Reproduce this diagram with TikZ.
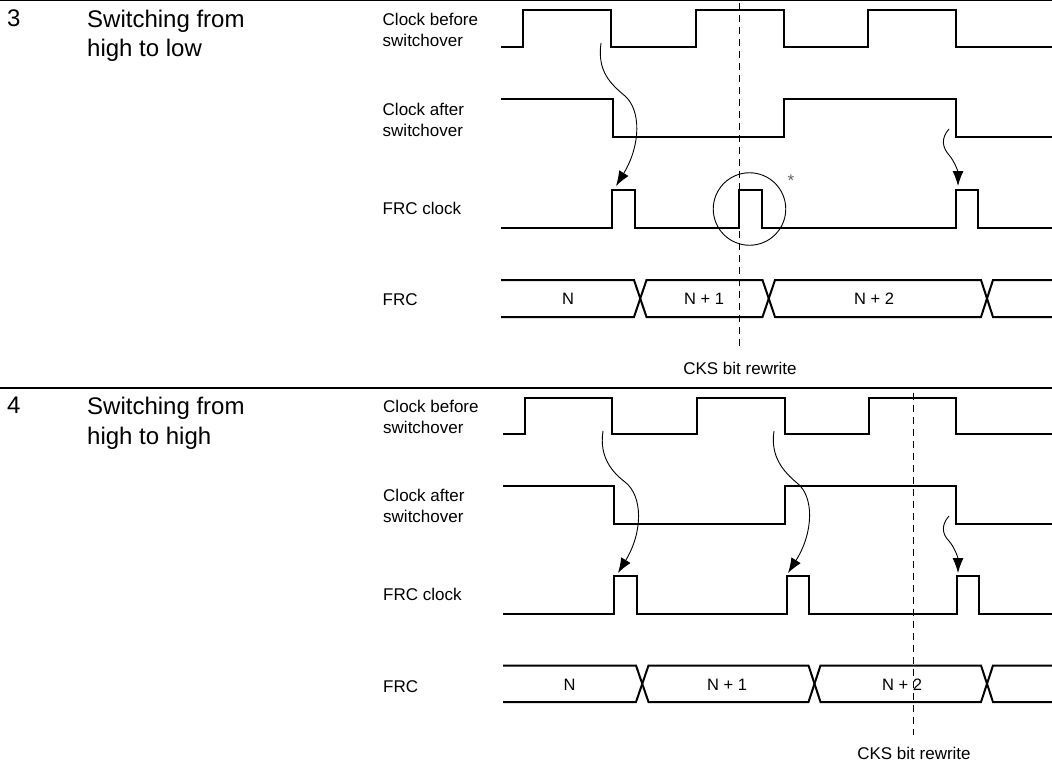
\documentclass[tikz,border=0pt]{standalone}
\usepackage{fontspec}
\setmainfont{Liberation Sans}
\usepackage{tikz}
\usetikzlibrary{arrows.meta,positioning}
\begin{document}
\begin{tikzpicture}[
        x=1pt, y=-1pt,
        siglabel/.style={
          align=left,
          inner sep=0pt,
          minimum height=44pt,
          font=\fontsize{17}{21}\selectfont
        },
        rowtitle/.style={
          align=left,
          anchor=north west,
          inner sep=0pt,
          font=\fontsize{24}{29.5}\selectfont
        },
        value/.style={inner sep=0pt, font=\fontsize{16.5}{18}\selectfont},
        rewrite/.style={inner sep=0pt, font=\fontsize{17}{18}\selectfont},
        wave/.style={line width=2pt, line join=miter},
        rule/.style={line width=1.5pt},
        cause/.style={-{Latex[length=15pt,width=11pt]}, line width=0.9pt},
        cksline/.style={line width=0.9pt, dash pattern=on 7pt off 5pt}
      ]
        \useasboundingbox (0,0) rectangle (1052,761);

        \draw[rule] (0,0.5) -- (1052,0.5);
        \draw[rule] (0,388) -- (1052,388);

        \node[rowtitle] (num3) at (7,9.5) {3};
        \node[rowtitle] (title3) at (87,9.5) {Switching from\\high to low};
        \node[siglabel, anchor=west] (before3) at (382.5,30) {Clock before\\switchover};
        \node[siglabel, below=46pt of before3.south west, anchor=north west] (after3) {Clock after\\switchover};
        \node[siglabel, below=44pt of after3.south west, anchor=north west] (frck3) {FRC clock};
        \node[siglabel, below=46pt of frck3.south west, anchor=north west] (frc3) {FRC};

        \draw[wave] (501,47) -- (523,47) -- (523,10) -- (611,10) -- (611,47) -- (696,47) -- (696,10) -- (784,10) -- (784,47) -- (868,47) -- (868,10) -- (956,10) -- (956,47) -- (1052,47);
        \draw[wave] (501,99) -- (613,99) -- (613,137) -- (784,137) -- (784,99) -- (956,99) -- (956,137) -- (1052,137);
        \draw[wave] (501,228) -- (612,228) -- (612,190) -- (635,190) -- (635,228) -- (739,228) -- (739,190) -- (761.5,190) -- (761.5,228) -- (956,228) -- (956,190) -- (978,190) -- (978,228) -- (1052,228);
        \draw[wave] (501,280) -- (634,280) -- (646.5,317) -- (762.5,317) -- (775,280) -- (981,280) -- (993,317) -- (1052,317);
        \draw[wave] (501,317) -- (634,317) -- (646.5,280) -- (762.5,280) -- (775,317) -- (981,317) -- (993,280) -- (1052,280);

        \node[value] (n3) at (568,299) {N};
        \node[value] (na3) at (704,299) {N + 1};
        \node[value] (nb3) at (874,299) {N + 2};

        \coordinate (src3a) at (601,43);
        \coordinate (via3a) at (625,96);
        \coordinate (dst3a) at (616,186);
        \draw[cause] (src3a) .. controls (597,72) and (611,84) .. (via3a) .. controls (641,110) and (641,145) .. (dst3a);
        \coordinate (src3b) at (949,129);
        \coordinate (via3b) at (949,155);
        \coordinate (dst3b) at (958,186);
        \draw[cause] (src3b) .. controls (941,138) and (942,147) .. (via3b) .. controls (955,162) and (958,172) .. (dst3b);

        \node[draw, circle, line width=0.9pt, minimum size=72.5pt, inner sep=0pt] (mark) at (749.5,209) {};
        \node[text=black!60, inner sep=0pt, font=\fontsize{17}{17}\selectfont] (star) at (791,181) {*};

        \node[rewrite] (cks3) at (740,368) {CKS bit rewrite};
        \coordinate (top3) at (739,3);
        \coordinate (end3) at (739,349);
        \draw[cksline] (top3) -- (end3);

        \node[rowtitle] (num4) at (7,397) {4};
        \node[rowtitle] (title4) at (87,397) {Switching from\\high to high};
        \node[siglabel, anchor=west] (before4) at (383,417) {Clock before\\switchover};
        \node[siglabel, below=45pt of before4.south west, anchor=north west] (after4) {Clock after\\switchover};
        \node[siglabel, below=44pt of after4.south west, anchor=north west] (frck4) {FRC clock};
        \node[siglabel, below=47pt of frck4.south west, anchor=north west] (frc4) {FRC};

        \draw[wave] (503,434) -- (525,434) -- (525,398) -- (612,398) -- (612,434) -- (697,434) -- (697,398) -- (784.5,398) -- (784.5,434) -- (869,434) -- (869,398) -- (956,398) -- (956,434) -- (1052,434);
        \draw[wave] (503,486) -- (614,486) -- (614,524) -- (785,524) -- (785,486) -- (956,486) -- (956,524) -- (1052,524);
        \draw[wave] (503,614) -- (614,614) -- (614,576) -- (636.5,576) -- (636.5,614) -- (787,614) -- (787,576) -- (809,576) -- (809,614) -- (957,614) -- (957,576) -- (979,576) -- (979,614) -- (1052,614);
        \draw[wave] (503,665.5) -- (636,665.5) -- (648.5,702) -- (808.5,702) -- (820.5,665.5) -- (981,665.5) -- (993,702) -- (1052,702);
        \draw[wave] (503,702) -- (636,702) -- (648.5,665.5) -- (808.5,665.5) -- (820.5,702) -- (981,702) -- (993,665.5) -- (1052,665.5);

        \node[value] (n4) at (569.5,685) {N};
        \node[value] (na4) at (727,685) {N + 1};
        \node[value] (nb4) at (902,685) {N + 2};

        \coordinate (src4a) at (603,431);
        \coordinate (via4a) at (625,482);
        \coordinate (dst4a) at (618,573);
        \draw[cause] (src4a) .. controls (599,457) and (612,472) .. (via4a) .. controls (643,496) and (643,532) .. (dst4a);
        \coordinate (src4b) at (774,431);
        \coordinate (via4b) at (797,483);
        \coordinate (dst4b) at (788,573);
        \draw[cause] (src4b) .. controls (770,457) and (784,472) .. (via4b) .. controls (814,496) and (814,532) .. (dst4b);
        \coordinate (src4c) at (949,516);
        \coordinate (via4c) at (949,541);
        \coordinate (dst4c) at (958,573);
        \draw[cause] (src4c) .. controls (941,525) and (942,534) .. (via4c) .. controls (955,548) and (958,558) .. (dst4c);

        \node[rewrite] (cks4) at (914,753) {CKS bit rewrite};
        \coordinate (top4) at (913,393);
        \coordinate (end4) at (913,735);
        \draw[cksline] (top4) -- (end4);
      \end{tikzpicture}
\end{document}
